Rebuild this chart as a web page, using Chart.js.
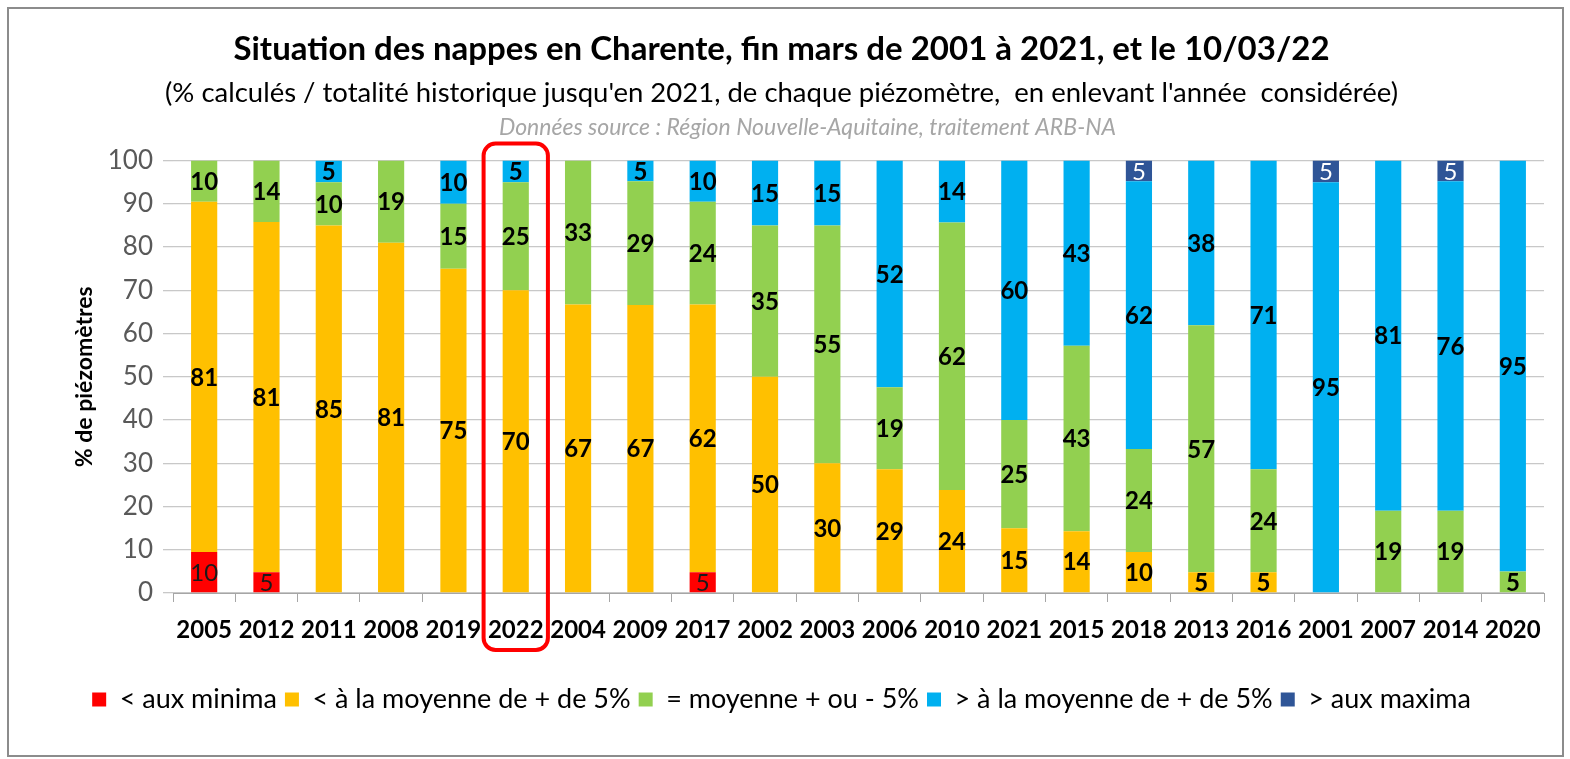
<!DOCTYPE html>
<html lang="fr">
<head>
<meta charset="utf-8">
<title>Situation des nappes en Charente</title>
<script src="https://cdn.jsdelivr.net/npm/chart.js@4.4.1/dist/chart.umd.min.js"></script>
<style>
  html, body { margin: 0; padding: 0; background: #fff; }
  #frame { position: absolute; left: 7px; top: 7px; width: 1553px; height: 746px; border: 2px solid #8c8c8c; }
  #frame canvas { display: block; }
</style>
</head>
<body>
<div id="frame"><canvas id="nappesChart"></canvas></div>
<script>
// years sorted from driest to wettest
const years = ['2005', '2012', '2011', '2008', '2019', '2022', '2004', '2009', '2017', '2002', '2003',
               '2006', '2010', '2021', '2015', '2018', '2013', '2016', '2001', '2007', '2014', '2020'];

// % of piezometers in each class
const belowMinima  = [9.5, 4.8, 0, 0, 0, 0, 0, 0, 4.8, 0, 0, 0, 0, 0, 0, 0, 0, 0, 0, 0, 0, 0];
const belowAverage = [81, 81, 85, 81, 75, 70, 66.7, 66.6, 61.9, 50, 30, 28.6, 23.8, 15, 14.3, 9.5, 4.8, 4.8, 0, 0, 0, 0];
const nearAverage  = [9.5, 14.2, 10, 19, 15, 25, 33.3, 28.6, 23.8, 35, 55, 19, 61.9, 25, 42.9, 23.8, 57.1, 23.8, 0, 19, 19, 5];
const aboveAverage = [0, 0, 5, 0, 10, 5, 0, 4.8, 9.5, 15, 15, 52.4, 14.3, 60, 42.8, 61.9, 38.1, 71.4, 95, 81, 76.2, 95];
const aboveMaxima  = [0, 0, 0, 0, 0, 0, 0, 0, 0, 0, 0, 0, 0, 0, 0, 4.8, 0, 0, 5, 0, 4.8, 0];

const highlightYear = '2022';
const FONT = 'Lato, "Open Sans", sans-serif';

// values written in the middle of each piece of bar
const segmentLabels = {
    id: 'segmentLabels',
    afterDatasetsDraw(chart) {
        const ctx = chart.ctx;
        ctx.save();
        ctx.textAlign = 'center';
        ctx.textBaseline = 'middle';
        chart.data.datasets.forEach((ds, i) => {
            const meta = chart.getDatasetMeta(i);
            if (meta.hidden) return;
            meta.data.forEach((bar, j) => {
                const v = ds.data[j];
                if (!v) return;
                ctx.font = (ds.labelBold ? 'bold ' : '') + '24px ' + FONT;
                ctx.fillStyle = ds.labelColor;
                ctx.fillText(Math.round(v), bar.x, (bar.y + bar.base) / 2 + 1);
            });
        });
        ctx.restore();
    }
};

// source line under the subtitle and the red frame around the current year
const extras = {
    id: 'extras',
    afterDraw(chart) {
        const ctx = chart.ctx;
        const area = chart.chartArea;
        const x = chart.scales.x;
        ctx.save();
        ctx.font = 'italic 23px ' + FONT;
        ctx.fillStyle = '#a6a6a6';
        ctx.textAlign = 'center';
        ctx.textBaseline = 'middle';
        ctx.fillText('Données source : Région Nouvelle-Aquitaine, traitement ARB-NA', (area.left + area.right) / 2 - 51, area.top - 33);

        const idx = years.indexOf(highlightYear);
        const half = (x.getPixelForValue(1) - x.getPixelForValue(0)) / 2 + 1;
        const cx = x.getPixelForValue(idx);
        ctx.strokeStyle = '#ff0000';
        ctx.lineWidth = 4;
        ctx.beginPath();
        ctx.roundRect(cx - half, area.top - 17, half * 2, area.bottom - area.top + 74, 12);
        ctx.stroke();
        ctx.restore();
    }
};

const ctx = document.getElementById('nappesChart').getContext('2d');
const chart = new Chart(ctx, {
    type: 'bar',
    data: {
        labels: years,
        datasets: [
            { label: '< aux minima', data: belowMinima, backgroundColor: '#ff0000', labelColor: '#1a1a1a', labelBold: false },
            { label: '< à la moyenne de + de 5%', data: belowAverage, backgroundColor: '#ffc000', labelColor: '#000', labelBold: true },
            { label: '= moyenne + ou - 5%', data: nearAverage, backgroundColor: '#92d050', labelColor: '#000', labelBold: true },
            { label: '> à la moyenne de + de 5%', data: aboveAverage, backgroundColor: '#00b0f0', labelColor: '#000', labelBold: true },
            { label: '> aux maxima', data: aboveMaxima, backgroundColor: '#2f5597', labelColor: '#fff', labelBold: false },
        ],
    },
    options: {
        responsive: true,
        maintainAspectRatio: false,
        animation: false,
        datasets: { bar: { barPercentage: 0.42, categoryPercentage: 1 } },
        layout: { padding: { left: 10, right: 18, top: 0, bottom: 32 } },
        scales: {
            x: {
                stacked: true,
                afterFit(scale) { scale.height = 85; },
                grid: { drawOnChartArea: false, tickLength: 9, color: '#a6a6a6' },
                border: { color: '#a6a6a6' },
                ticks: { color: '#000', font: { family: FONT, size: 24, weight: 'bold' }, maxRotation: 0, autoSkip: false, padding: 14 },
            },
            y: {
                stacked: true,
                min: 0,
                max: 100,
                afterFit(scale) { scale.width = 154; },
                grid: { color: '#c8c8c8', lineWidth: 1.3, tickLength: 10 },
                border: { display: false },
                ticks: { stepSize: 10, color: '#595959', font: { family: FONT, size: 26 }, padding: 10 },
                title: { display: true, text: '% de piézomètres', color: '#000', font: { family: FONT, size: 23, weight: 'bold' }, padding: { top: 52, bottom: 0 } },
            },
        },
        plugins: {
            title: {
                display: true,
                text: 'Situation des nappes en Charente, fin mars de 2001 à 2021, et le 10/03/22',
                color: '#000',
                font: { family: FONT, size: 33, weight: 'bold' },
                padding: { top: 21, bottom: 7 },
            },
            subtitle: {
                display: true,
                text: "(% calculés / totalité historique jusqu'en 2021, de chaque piézomètre,  en enlevant l'année  considérée)",
                color: '#000',
                font: { family: FONT, size: 27.5 },
                padding: { top: 0, bottom: 51 },
            },
            legend: {
                position: 'bottom',
                labels: { color: '#000', font: { family: FONT, size: 27 }, boxWidth: 14, boxHeight: 14, padding: 8 },
            },
            tooltip: { enabled: false },
        },
    },
    plugins: [segmentLabels, extras],
});
</script>
</body>
</html>
